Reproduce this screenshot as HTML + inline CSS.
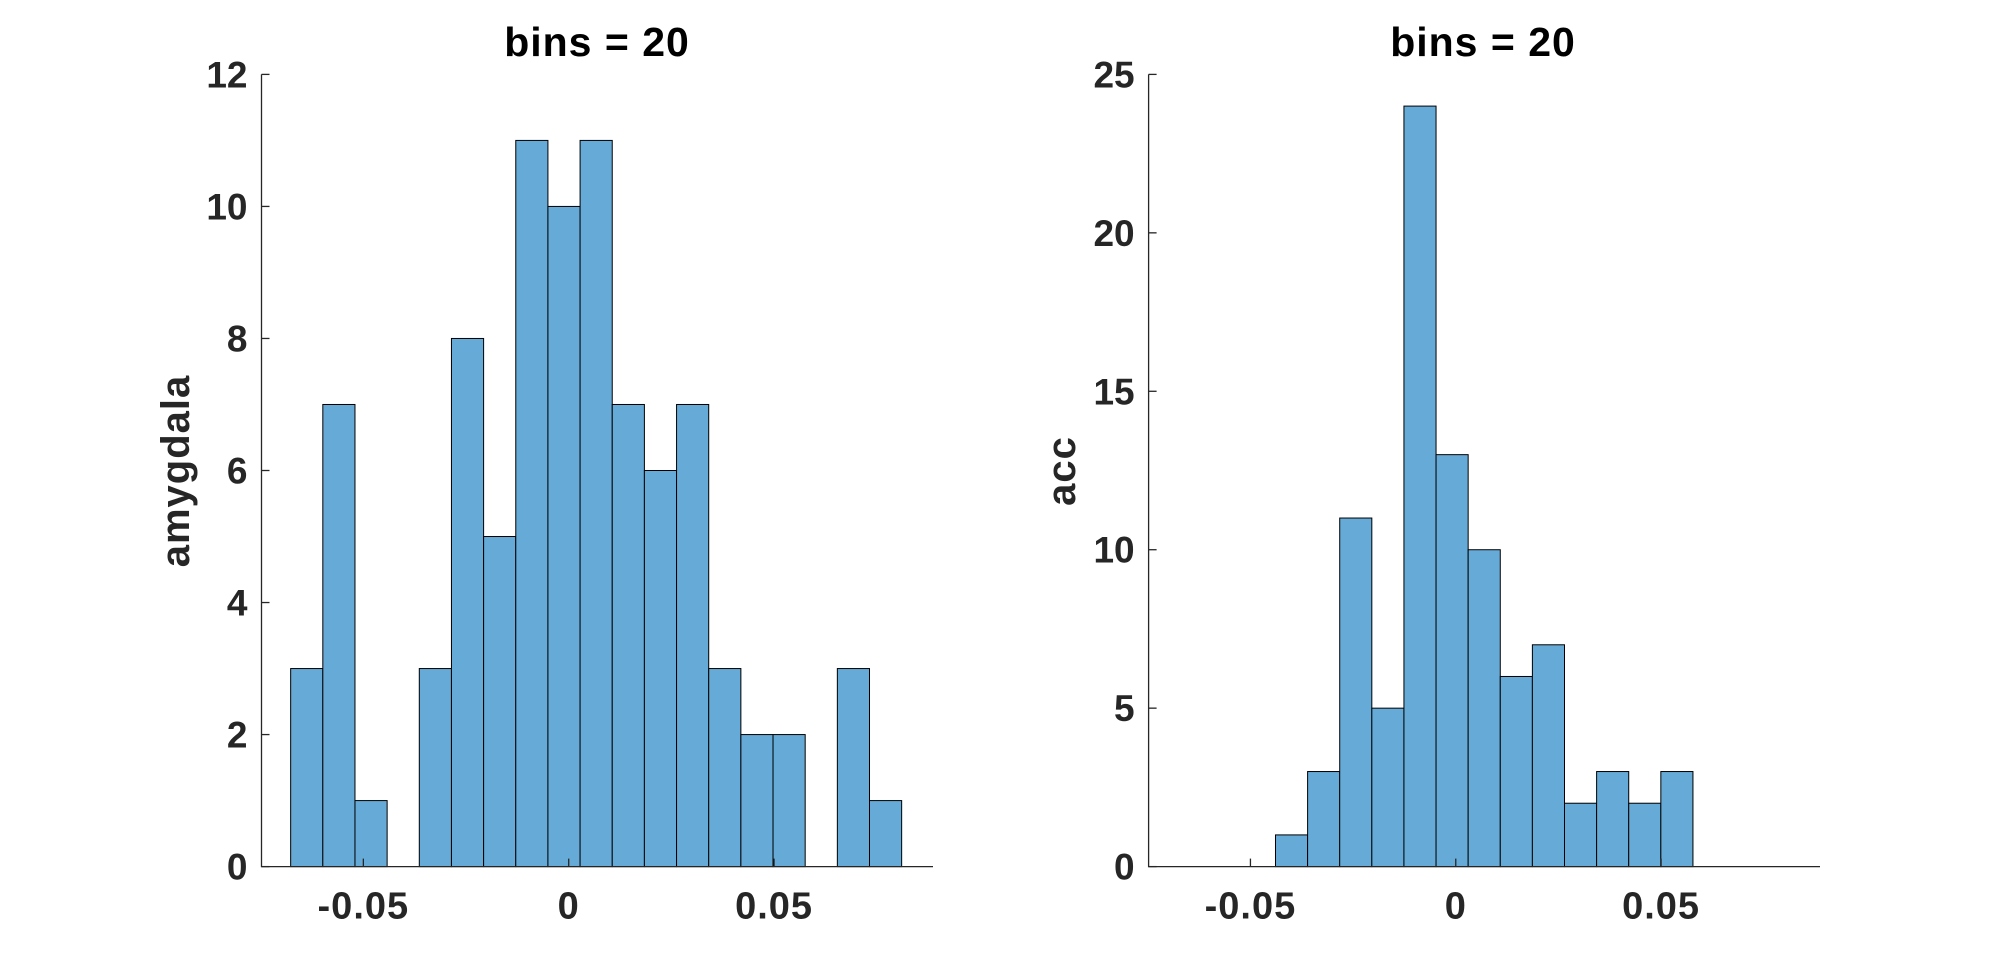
<!DOCTYPE html>
<html><head><meta charset="utf-8"><style>
html,body{margin:0;padding:0;background:#fff;}
svg{display:block;font-family:"Liberation Sans",Arial,sans-serif;font-weight:bold;}
</style></head><body>
<svg id="chart" width="2010" height="974" viewBox="0 0 2010 974"></svg>
<script>
// Left histogram data (amygdala)
const leftCounts = [3,7,1,0,3,8,5,11,10,11,7,6,7,3,2,2,0,3,1];
const leftBinStart = -0.0677;
const leftBinWidth = 0.00783;
const leftYTicks = [0,2,4,6,8,10,12];
const leftXTicks = [-0.05,0,0.05];
const leftXTickLabels = ["-0.05","0","0.05"];
// Right histogram data (acc)
const rightCounts = [1,3,11,5,24,13,10,6,7,2,3,2,3];
const rightBinStart = -0.0439;
const rightBinWidth = 0.00782;
const rightYTicks = [0,5,10,15,20,25];
const rightXTicks = [-0.05,0,0.05];
const rightXTickLabels = ["-0.05","0","0.05"];

const NS = "http://www.w3.org/2000/svg";
const svg = document.getElementById('chart');
function mk(tag, attrs, parent){
  const e = document.createElementNS(NS, tag);
  for (const k in attrs) e.setAttribute(k, attrs[k]);
  (parent||svg).appendChild(e);
  return e;
}

function panel(p){
  const g = mk('g', {});
  
  
  const xs = v => p.x0 + (v - p.xmin) / (p.xmax - p.xmin) * (p.x1 - p.x0);
  const ys = v => p.yb - v / p.ymax * (p.yb - p.yt);
  p.counts.forEach((c, i) => {
    if (c <= 0) return;
    const l = xs(p.binStart + i * p.binWidth), r = xs(p.binStart + (i + 1) * p.binWidth);
    const b = mk('rect', {x: l, y: ys(c), width: r - l, height: ys(0) - ys(c), fill: '#66aad7', stroke: '#000', 'stroke-width': 1}, g);
    
    
  });
  const ax = mk('path', {d: `M${p.x0},${p.yt}V${p.yb}H${p.x1}`, stroke: '#262626', 'stroke-width': 1.3, fill: 'none'}, g);
  
  
  p.yTicks.forEach(t => {
    const y = ys(t);
    mk('line', {x1: p.x0, x2: p.x0 + 8, y1: y, y2: y, stroke: '#262626', 'stroke-width': 1.3}, g);
    const tx = mk('text', {x: p.x0 - 14, y: y + 13, 'text-anchor': 'end', 'font-size': 37, fill: '#262626'}, g);
    tx.textContent = t;
    
    
  });
  p.xTicks.forEach((t, i) => {
    const x = xs(t);
    mk('line', {x1: x, x2: x, y1: p.yb, y2: p.yb - 8, stroke: '#262626', 'stroke-width': 1.3}, g);
    const tx = mk('text', {x: x, y: p.yb + 52, 'text-anchor': 'middle', 'font-size': 38, fill: '#262626', 'letter-spacing': 1}, g);
    tx.textContent = p.xLabels[i];
    
    
  });
  const ti = mk('text', {x: p.titleX, y: 56, 'text-anchor': 'middle', 'font-size': 41, fill: '#000', 'letter-spacing': 1}, g);
  ti.textContent = 'bins = 20';
  
  
  const yl = mk('text', {x: 0, y: 0, 'text-anchor': 'middle', 'font-size': 40, fill: '#262626', 'letter-spacing': 1, transform: `translate(${p.ylabX},${p.ylabY}) rotate(-90)`}, g);
  yl.textContent = p.ylabel;
  
  
}

panel({name:'left-histogram', counts:leftCounts, binStart:leftBinStart, binWidth:leftBinWidth,
  yTicks:leftYTicks, xTicks:leftXTicks, xLabels:leftXTickLabels,
  x0:261.5, x1:933, xmin:-0.0748, xmax:0.0887, yt:74.4, yb:866.6, ymax:12,
  titleX:597, ylabel:'amygdala', ylabX:189, ylabY:471});
panel({name:'right-histogram', counts:rightCounts, binStart:rightBinStart, binWidth:rightBinWidth,
  yTicks:rightYTicks, xTicks:rightXTicks, xLabels:rightXTickLabels,
  x0:1148.6, x1:1820, xmin:-0.0748, xmax:0.0887, yt:74.4, yb:866.6, ymax:25,
  titleX:1483, ylabel:'acc', ylabX:1075, ylabY:471});
</script>
</body></html>
